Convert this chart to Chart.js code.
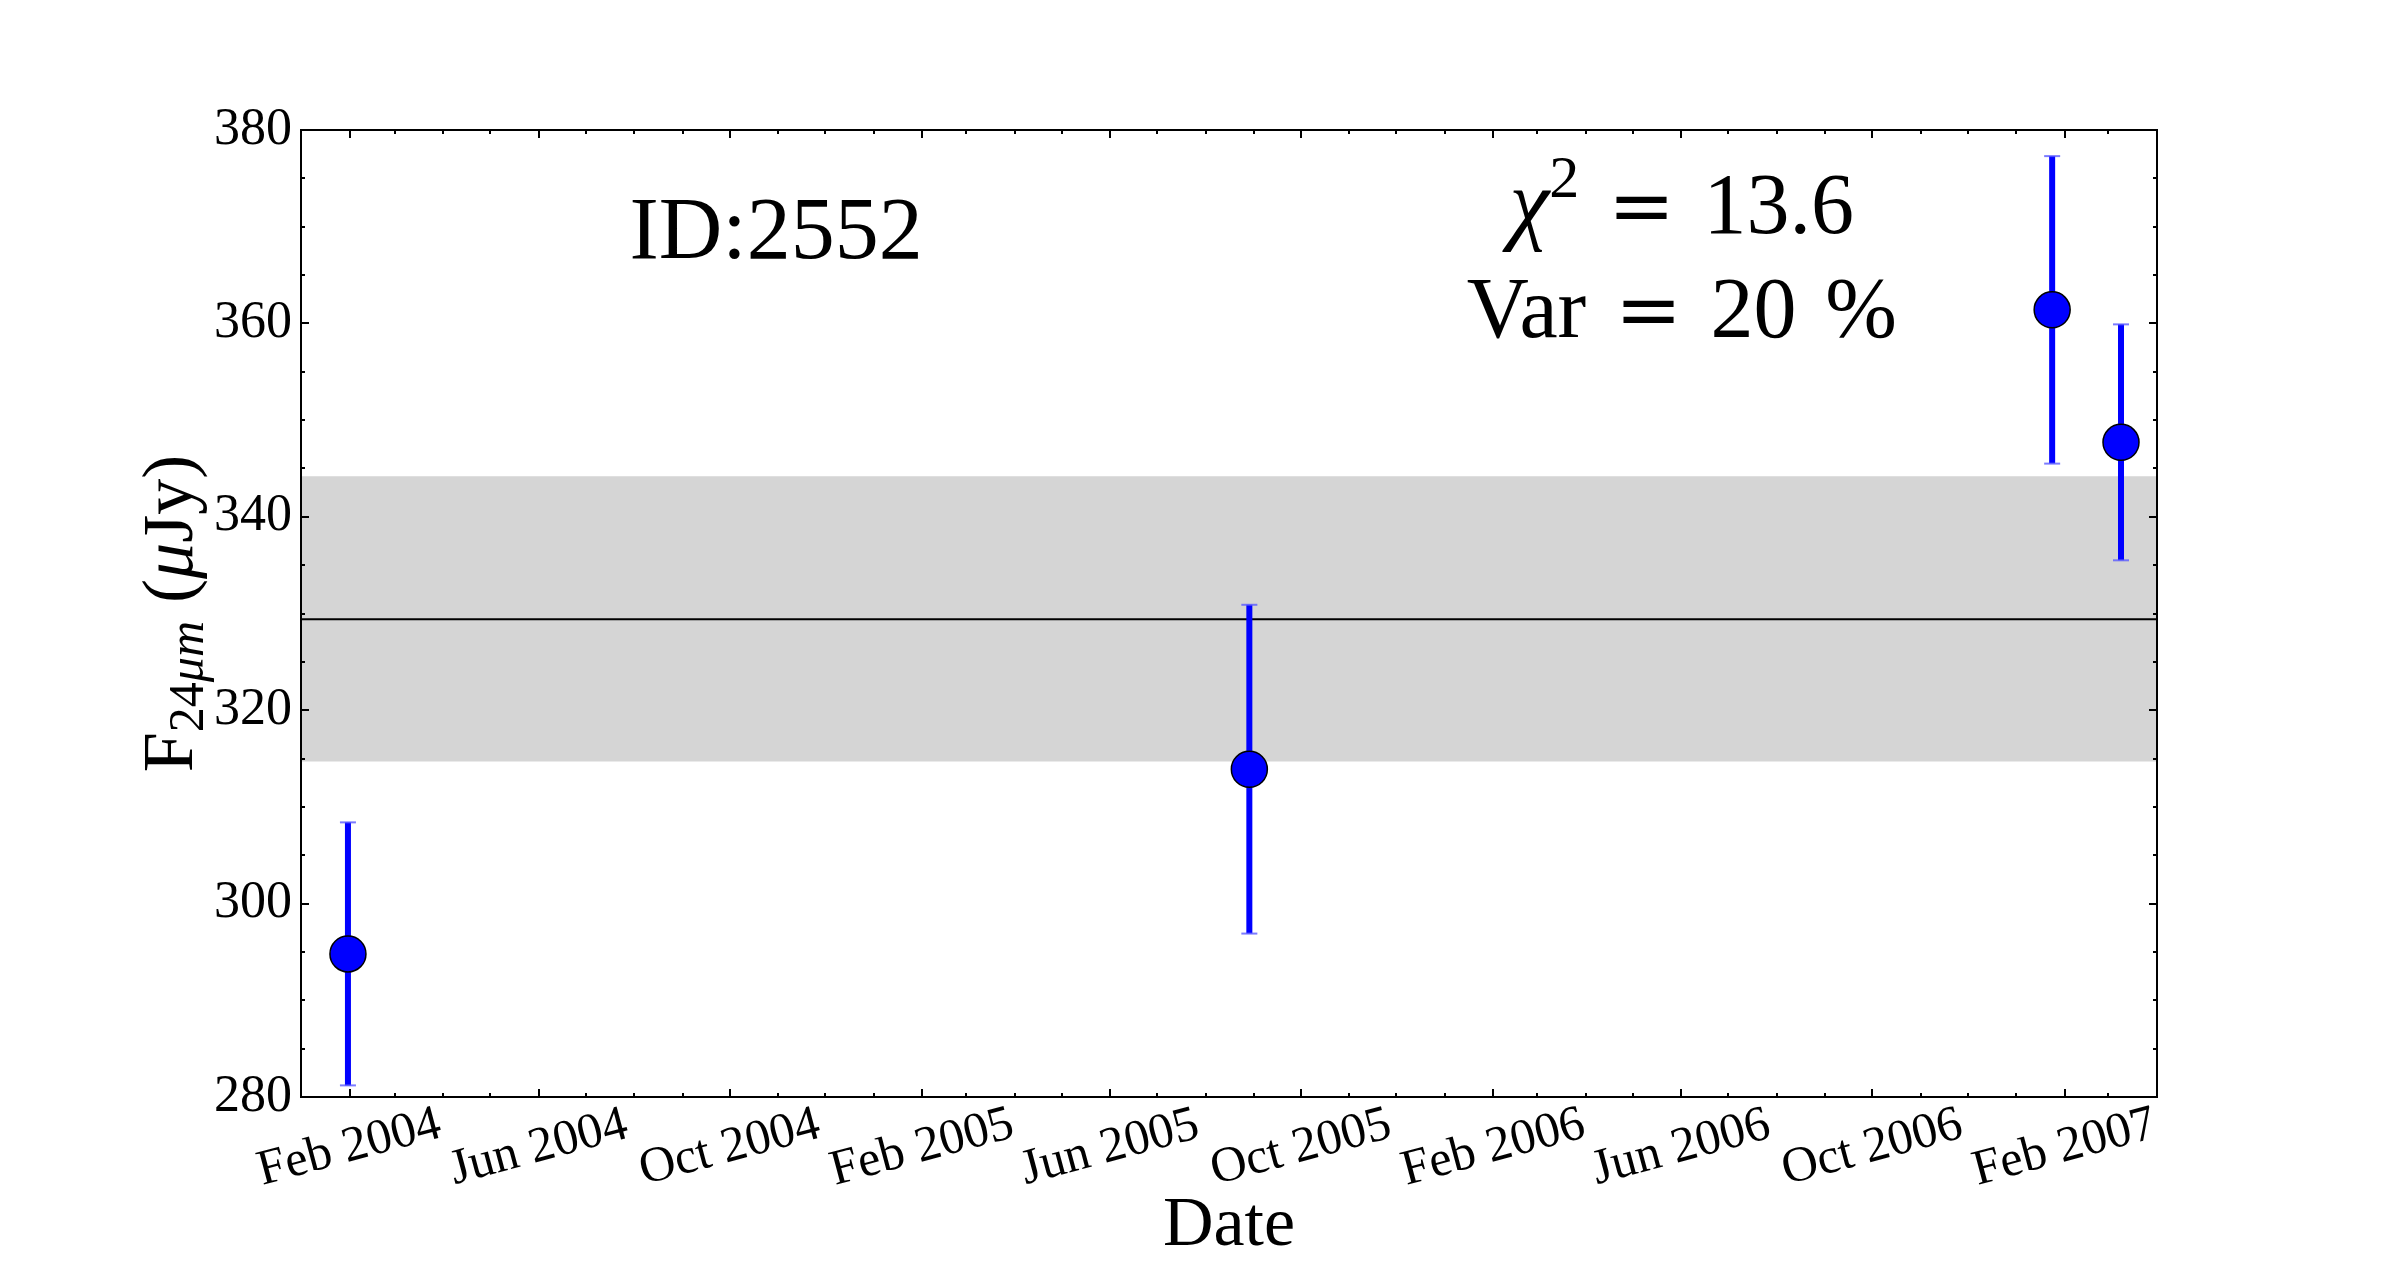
<!DOCTYPE html>
<html>
<head>
<meta charset="utf-8">
<script src="https://cdn.jsdelivr.net/npm/chart.js@4.4.0/dist/chart.umd.min.js"></script>
<style>
  html, body { margin: 0; padding: 0; background: #fff; }
  #wrap { width: 2400px; height: 1285px; }
</style>
</head>
<body>
<div id="wrap"><canvas id="chart" width="2400" height="1285"></canvas></div>
<script>
// observations (24 micron flux, micro-Jy)
const obsDates = [Date.UTC(2004, 0, 31), Date.UTC(2005, 7, 29), Date.UTC(2007, 0, 24), Date.UTC(2007, 2, 9)];
const fluxValues = [294.8, 313.9, 361.4, 347.7];
const fluxErrors = [13.6, 17.0, 15.9, 12.2];

// mean level and its grey band
const meanFlux = 329.4;
const bandLow = 314.7;
const bandHigh = 344.2;

// axes
const xStart = Date.UTC(2004, 0, 1);
const xEnd = Date.UTC(2007, 3, 1);
const xTickDates = [
  Date.UTC(2004, 1, 1), Date.UTC(2004, 5, 1), Date.UTC(2004, 9, 1),
  Date.UTC(2005, 1, 1), Date.UTC(2005, 5, 1), Date.UTC(2005, 9, 1),
  Date.UTC(2006, 1, 1), Date.UTC(2006, 5, 1), Date.UTC(2006, 9, 1),
  Date.UTC(2007, 1, 1)
];
const xTickLabels = [
  "Feb 2004", "Jun 2004", "Oct 2004",
  "Feb 2005", "Jun 2005", "Oct 2005",
  "Feb 2006", "Jun 2006", "Oct 2006",
  "Feb 2007"
];
const yTicks = [280, 300, 320, 340, 360, 380];

const idText = "ID:2552";
const chiValue = "13.6";
const varValue = "20";

const SERIF = '"Liberation Serif", "Times New Roman", serif';
const EQ_FONT = '"DejaVu Serif", serif';

// error bar segments, broken by null points
const errData = [];
obsDates.forEach((t, i) => {
  errData.push({ x: t, y: fluxValues[i] - fluxErrors[i] });
  errData.push({ x: t, y: fluxValues[i] + fluxErrors[i] });
  errData.push({ x: t, y: null });
});

function drawRuns(ctx, runs, cx, baseY) {
  let total = 0;
  runs.forEach(r => { ctx.font = r.font; r.w = ctx.measureText(r.text).width; total += r.w; });
  let xx = cx - total / 2;
  ctx.textAlign = "left";
  ctx.textBaseline = "alphabetic";
  runs.forEach(r => {
    ctx.font = r.font;
    ctx.fillText(r.text, xx, baseY + (r.dy || 0));
    xx += r.w;
  });
}

const framePlugin = {
  id: "frame",
  afterDraw(chart) {
    const { ctx, chartArea: a, scales: { x, y } } = chart;
    const w = a.right - a.left, h = a.bottom - a.top;
    ctx.save();

    // inward ticks on all four sides
    ctx.strokeStyle = "#000";
    ctx.lineWidth = 2;
    ctx.beginPath();
    for (let k = 0; ; k++) {
      const t = Date.UTC(2004, k, 1);
      if (t > xEnd) break;
      const len = xTickDates.includes(t) ? 8 : 4;
      const px = Math.round(x.getPixelForValue(t));
      ctx.moveTo(px, a.bottom); ctx.lineTo(px, a.bottom - len);
      ctx.moveTo(px, a.top); ctx.lineTo(px, a.top + len);
    }
    for (let v = y.min; v <= y.max; v += 5) {
      const len = v % 20 === 0 ? 8 : 4;
      const py = Math.round(y.getPixelForValue(v));
      ctx.moveTo(a.left, py); ctx.lineTo(a.left + len, py);
      ctx.moveTo(a.right, py); ctx.lineTo(a.right - len, py);
    }
    ctx.stroke();
    ctx.strokeRect(a.left, a.top, w, h);

    ctx.fillStyle = "#000";

    // y tick labels
    ctx.font = "52px " + SERIF;
    ctx.textAlign = "right";
    ctx.textBaseline = "middle";
    yTicks.forEach(v => ctx.fillText(String(v), a.left - 9, y.getPixelForValue(v)));

    // rotated date labels
    ctx.font = "50px " + SERIF;
    ctx.textAlign = "center";
    xTickDates.forEach((t, i) => {
      ctx.save();
      ctx.translate(x.getPixelForValue(t), a.bottom + 51);
      ctx.rotate(-15 * Math.PI / 180);
      ctx.fillText(xTickLabels[i], 0, 0);
      ctx.restore();
    });

    // x title
    ctx.font = "70px " + SERIF;
    ctx.textBaseline = "alphabetic";
    ctx.fillText("Date", (a.left + a.right) / 2, a.bottom + 148);

    // y title
    ctx.save();
    ctx.translate(192, (a.top + a.bottom) / 2);
    ctx.rotate(-Math.PI / 2);
    drawRuns(ctx, [
      { text: "F", font: "72px " + SERIF },
      { text: "24", font: "50px " + SERIF, dy: 11 },
      { text: "\u03bcm", font: "italic 50px " + SERIF, dy: 11 },
      { text: " (", font: "72px " + SERIF },
      { text: "\u03bc", font: "italic 72px " + SERIF },
      { text: "Jy)", font: "72px " + SERIF }
    ], 0, 0);
    ctx.restore();

    // annotations
    ctx.textAlign = "center";
    ctx.font = "88px " + SERIF;
    ctx.fillText(idText, a.left + 0.256 * w, a.top + 0.132 * h);

    const cx = a.left + 0.744 * w;
    drawRuns(ctx, [
      { text: "\u03c7", font: "italic 90px " + SERIF },
      { text: "2", font: "60px " + SERIF, dy: -36 },
      { text: "\u2004", font: "86px " + SERIF },
      { text: "=", font: "80px " + EQ_FONT },
      { text: "\u2004" + chiValue, font: "86px " + SERIF }
    ], cx, a.top + 0.1065 * h);
    drawRuns(ctx, [
      { text: "Var\u2004", font: "86px " + SERIF },
      { text: "=", font: "80px " + EQ_FONT },
      { text: "\u2004" + varValue + "\u2004%", font: "86px " + SERIF }
    ], cx, a.top + 0.214 * h);

    ctx.restore();
  }
};

const canvas = document.getElementById("chart");

new Chart(canvas.getContext("2d"), {
  type: "scatter",
  data: {
    datasets: [
      {
        label: "flux",
        data: obsDates.map((t, i) => ({ x: t, y: fluxValues[i] })),
        pointRadius: 18,
        pointBackgroundColor: "#0000ff",
        pointBorderColor: "#000000",
        pointBorderWidth: 1.5,
        order: 0
      },
      {
        type: "line",
        label: "errors",
        data: errData,
        spanGaps: false,
        borderColor: "#0000ff",
        borderWidth: 6,
        pointStyle: "line",
        pointRadius: 8,
        pointBorderColor: "rgba(90, 90, 255, 0.8)",
        pointBorderWidth: 2,
        order: 1
      },
      {
        type: "line",
        label: "mean",
        data: [{ x: xStart, y: meanFlux }, { x: xEnd, y: meanFlux }],
        borderColor: "#000000",
        borderWidth: 2,
        pointRadius: 0,
        order: 2
      },
      {
        type: "line",
        label: "band",
        data: [{ x: xStart, y: bandHigh }, { x: xEnd, y: bandHigh }],
        borderWidth: 0,
        borderColor: "rgba(0,0,0,0)",
        pointRadius: 0,
        fill: { value: bandLow },
        backgroundColor: "#d5d5d5",
        order: 3
      }
    ]
  },
  options: {
    responsive: false,
    devicePixelRatio: 1,
    animation: false,
    events: [],
    layout: { padding: { left: 301, right: 243, top: 130, bottom: 188 } },
    plugins: {
      legend: { display: false },
      tooltip: { enabled: false }
    },
    scales: {
      x: {
        type: "linear",
        min: xStart,
        max: xEnd,
        ticks: { display: false },
        grid: { display: false, drawTicks: false },
        border: { display: false },
        afterFit: s => { s.height = 0; }
      },
      y: {
        type: "linear",
        min: 280,
        max: 380,
        ticks: { display: false },
        grid: { display: false, drawTicks: false },
        border: { display: false },
        afterFit: s => { s.width = 0; }
      }
    }
  },
  plugins: [framePlugin]
});
</script>
</body>
</html>
